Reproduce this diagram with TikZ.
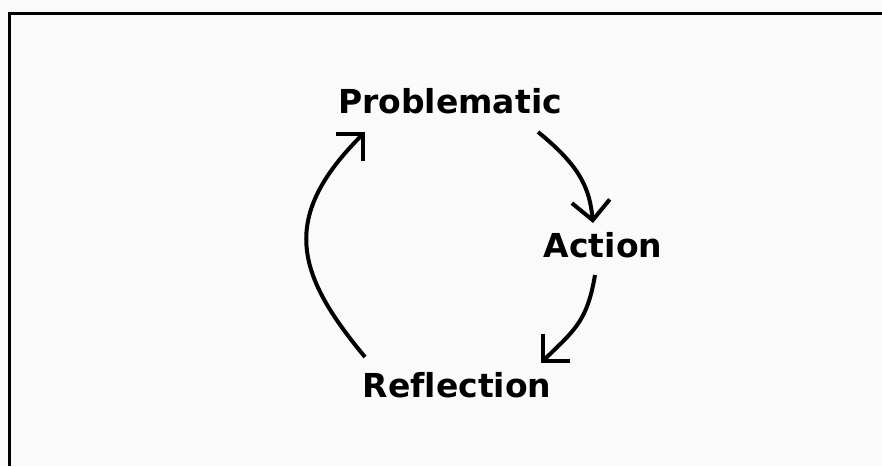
\documentclass[tikz,border=0pt]{standalone}
\usepackage{fontspec}
\usetikzlibrary{arrows.meta}
\newfontfamily\cyclefont{DejaVu Sans}[Ligatures=NoCommon]
\definecolor{paper}{RGB}{250,250,250}

\begin{document}
\begin{tikzpicture}[x=1pt,y=-1pt,
  lbl/.style={anchor=base,inner sep=0pt,font=\cyclefont\bfseries\fontsize{33}{33}\selectfont},
  cyc/.style={line width=4pt,-{Straight Barb[length=19pt,width=38pt]}}]
\useasboundingbox (0,0) rectangle (882,466);
\fill[paper] (0,0) rectangle (882,466);
\draw[line width=3pt] (9,466) -- (9,13) -- (882,13);
\node[lbl] (prob) at (450,113) {Problematic};
\node[lbl] (act) at (603,257) {Action};
\node[lbl] (refl) at (457,397) {Reflection};
\draw[cyc] ([shift={(-92,-40)}]refl.base) .. controls +(-70,-84) and +(-85,85) .. ([shift={(-85,19)}]prob.base);
\draw[cyc] ([shift={(88,19)}]prob.base) .. controls +(42,34) and +(-3.5,-35) .. ([shift={(-10,-34)}]act.base);
\draw[cyc] ([shift={(-8,18)}]act.base) .. controls +(-8,48) and +(32,-32) .. ([shift={(84,-34)}]refl.base);
\end{tikzpicture}
\end{document}
